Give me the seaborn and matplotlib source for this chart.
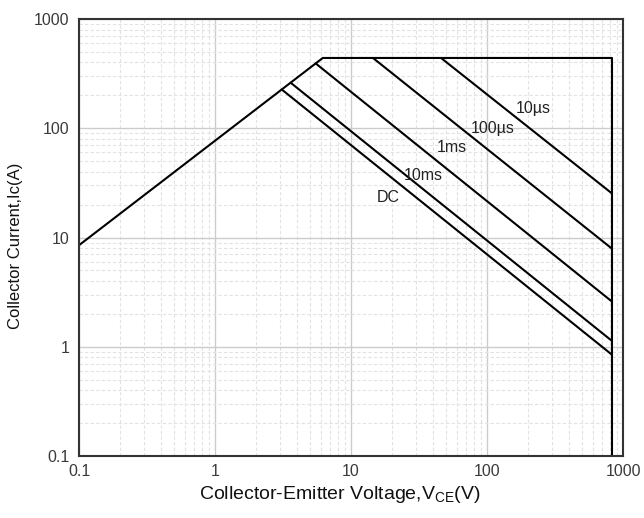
import numpy as np
import pandas as pd
import matplotlib
matplotlib.use("Agg")
import matplotlib.pyplot as plt
import matplotlib.ticker as mticker
import seaborn as sns

# safe operating area
env_vce = [0.1, 6.2, 830, 830]
env_ic = [8.5, 440, 440, 0.1]

pulse_names = ["10\u00b5s", "100\u00b5s", "1ms", "10ms", "DC"]
pulse_vce = [[45.9, 830], [14.5, 830], [5.5, 830], [3.6, 830], [3.1, 830]]
pulse_ic = [[440, 25.3], [440, 7.9], [392, 2.59], [261, 1.13], [226, 0.845]]
label_vce = [218, 111, 55, 33.8, 18.7]
label_ic = [152, 100, 66, 37, 23.3]

tick_vals = [0.1, 1, 10, 100, 1000]
tick_text = ["0.1", "1", "10", "100", "1000"]

rows = []
for v, i in zip(env_vce, env_ic):
    rows.append(("envelope", v, i))
for name, vs, cs in zip(pulse_names, pulse_vce, pulse_ic):
    for v, i in zip(vs, cs):
        rows.append((name, v, i))
df = pd.DataFrame(rows, columns=["seg", "vce", "ic"])

sns.set_style("white")
plt.rcParams["font.family"] = ["Liberation Sans", "DejaVu Sans"]
plt.rcParams["mathtext.fontset"] = "custom"
plt.rcParams["mathtext.rm"] = "Liberation Sans"

fig = plt.figure(figsize=(6.44, 5.18), dpi=100)
ax = fig.add_axes([0.1227, 0.1197, 0.8447, 0.8436])

sns.lineplot(data=df, x="vce", y="ic", units="seg", estimator=None, sort=False,
             color="black", linewidth=1.5, ax=ax, legend=False)

ax.set_xscale("log")
ax.set_yscale("log")
ax.set_xlim(0.1, 1000)
ax.set_ylim(0.1, 1000)

ax.xaxis.set_major_locator(mticker.FixedLocator(tick_vals))
ax.xaxis.set_major_formatter(mticker.FixedFormatter(tick_text))
ax.yaxis.set_major_locator(mticker.FixedLocator(tick_vals))
ax.yaxis.set_major_formatter(mticker.FixedFormatter(tick_text))
ax.xaxis.set_minor_locator(mticker.LogLocator(base=10, subs=np.arange(2, 10)))
ax.yaxis.set_minor_locator(mticker.LogLocator(base=10, subs=np.arange(2, 10)))
ax.xaxis.set_minor_formatter(mticker.NullFormatter())
ax.yaxis.set_minor_formatter(mticker.NullFormatter())

ax.grid(True, which="major", color="#cccccc", linewidth=1.0, linestyle="-")
ax.grid(True, which="minor", color="#e2e2e2", linewidth=0.8, linestyle=(0, (3, 2)))
ax.tick_params(which="both", length=0, labelsize=11.5, colors="#3a3a3a")
ax.tick_params(axis="x", pad=6)
ax.tick_params(axis="y", pad=7)

for s in ax.spines.values():
    s.set_color("#333333")
    s.set_linewidth(1.5)

for name, x, y in zip(pulse_names, label_vce, label_ic):
    ax.text(x, y, name, ha="center", va="center", fontsize=11.5, color="#222222")

ax.set_xlabel("Collector-Emitter Voltage,V$_{\\mathregular{CE}}$(V)", fontsize=14, color="#111111", labelpad=3)
ax.set_ylabel("Collector Current,Ic(A)", fontsize=12, color="#111111", labelpad=8)
ax.xaxis.set_label_coords(0.48, -0.064)
ax.yaxis.label.set_y(0.48)

fig.savefig("out.png", dpi=100)
